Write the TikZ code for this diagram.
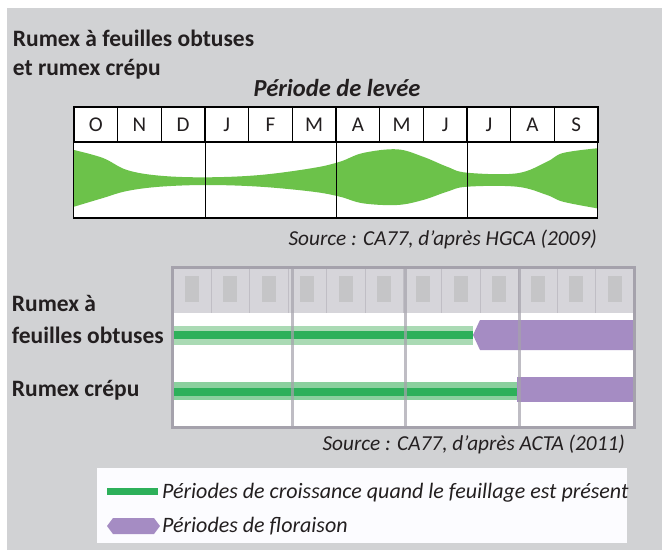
\documentclass[tikz,border=0pt]{standalone}
\usepackage{fontspec}
\setmainfont{Carlito}
\usepackage{tikz}
\usetikzlibrary{positioning}
\definecolor{bggray}{RGB}{209,210,212}
\definecolor{txt}{RGB}{35,31,32}
\definecolor{leveegreen}{RGB}{108,194,74}
\definecolor{bargreen}{RGB}{45,176,90}
\definecolor{halogreen}{RGB}{170,218,180}
\definecolor{flowerpurple}{RGB}{165,140,195}
\definecolor{gridgray}{RGB}{165,162,172}
\definecolor{headgray}{RGB}{214,213,218}
\tikzstyle{title} = [anchor=base west, inner sep=0, text=txt, font=\fontsize{23.5}{28}\selectfont\bfseries]
\tikzstyle{month} = [draw=black, line width=1.2pt, fill=white, minimum width=43.67pt, minimum height=35pt, inner sep=0, text=txt, font=\fontsize{21}{24}\selectfont]
\tikzstyle{source} = [anchor=base east, inner sep=0, text=txt, font=\fontsize{21.3}{25}\selectfont\itshape]
\tikzstyle{legendtext} = [anchor=base west, inner sep=0, text=txt, font=\fontsize{22}{26}\selectfont\itshape]
\tikzstyle{frame} = [line width=1.2pt, draw=black]
\tikzstyle{gridline} = [line width=3pt, draw=gridgray]

\begin{document}
\begin{tikzpicture}[x=1pt, y=-1pt, node distance = 43.67pt]
			\useasboundingbox (0,0) rectangle (662,550);
			\fill[white] (0,0) rectangle (662,550);
			\fill[bggray] (7,8) rectangle (662,550);

			%--Titles--%
			\node(title1)[title] at (12.7,46.7) {Rumex à feuilles obtuses};
			\node(title2)[title] at (12.7,75) {et rumex crépu};
			\node(levee)[title, anchor=base, font=\fontsize{24.5}{28}\selectfont\bfseries\itshape] at (337,96.7) {Période de levée};

			%--Months--%
			\node(m1)[month] at (95.83,124.5) {O};
			\node(m2)[month,right of=m1] {N};
			\node(m3)[month,right of=m2] {D};
			\node(m4)[month,right of=m3] {J};
			\node(m5)[month,right of=m4] {F};
			\node(m6)[month,right of=m5] {M};
			\node(m7)[month,right of=m6] {A};
			\node(m8)[month,right of=m7] {M};
			\node(m9)[month,right of=m8] {J};
			\node(m10)[month,right of=m9] {J};
			\node(m11)[month,right of=m10] {A};
			\node(m12)[month,right of=m11] {S};

			%--Emergence band--%
			\node(body)[fill=white, minimum width=524pt, minimum height=75pt, inner sep=0, below=0pt of m1.south west, anchor=north west] {};
			\fill[leveegreen] plot[smooth, tension=0.6] coordinates {(74,150) (103,158) (127,170) (160,175.7) (207,177.3) (260,175) (313,168) (340,161.7) (363,153) (397,149.3) (423,156.7) (447,166.7) (467,172.7) (517,173.3) (547,161.7) (563,153) (597,148.3)}
				-- plot[smooth, tension=0.6] coordinates {(597,208.3) (563,201.7) (547,195) (517,186.7) (467,186.7) (447,191.7) (423,200) (397,205) (363,203.3) (340,196.7) (313,191.7) (260,186.7) (207,185) (160,186.7) (127,191) (103,198) (74,206.7)} -- cycle;
			\draw[frame] (m3.south east) -- (m3.south east |- body.south);
			\draw[frame] (m6.south east) -- (m6.south east |- body.south);
			\draw[frame] (m9.south east) -- (m9.south east |- body.south);
			\draw[frame] (body.north west) rectangle (body.south east);

			\node(src1)[source] at (597,245) {Source : CA77, d’après HGCA (2009)};

			%--Flowering chart--%
			\node(grid)[fill=white, minimum width=461pt, minimum height=159pt, inner sep=0] at (403.5,347.5) {};
			\fill[headgray] (grid.north west) rectangle (634,313);
			\foreach \i in {0,...,11}
				\fill[gray!60, opacity=0.45] (173+\i*38.42+12,276) rectangle ++(14,26);
			\foreach \i in {1,...,11}
				\draw[gridgray!70, line width=1pt] (173+\i*38.42,268) -- (173+\i*38.42,313);

			%--Growth and flowering bars--%
			\fill[halogreen] (173,326) rectangle (473,345);
			\fill[bargreen] (173,331) rectangle (473,339);
			\fill[halogreen!75!bargreen] (173,382) rectangle (517,400);
			\fill[bargreen] (173,388) rectangle (517,396);
			\fill[flowerpurple] (473,335) -- (480,320) -- (634,320) -- (634,350) -- (480,350) -- cycle;
			\fill[flowerpurple] (517,377) rectangle (634,402);

			\draw[gridline, opacity=0.7] (292,268) -- (292,427);
			\draw[gridline, opacity=0.7] (405,268) -- (405,427);
			\draw[gridline, opacity=0.7] (519,268) -- (519,427);
			\draw[gridline] (grid.north west) rectangle (grid.south east);

			%--Row labels--%
			\node(rowA1)[title] at (11.7,311.7) {Rumex à};
			\node(rowA2)[title] at (11.7,343.3) {feuilles obtuses};
			\node(rowB)[title] at (11.7,396.7) {Rumex crépu};

			\node(src2)[source] at (625,450) {Source : CA77, d’après ACTA (2011)};

			%--Legend--%
			\node(legend)[fill={rgb,255:red,252;green,252;blue,255}, minimum width=530pt, minimum height=75pt, inner sep=0] at (362,505.5) {};
			\fill[bargreen] (107,488) rectangle (158,495);
			\node(leg1)[legendtext] at (162,498.6) {Périodes de croissance quand le feuillage est présent};
			\fill[flowerpurple] (107,526) -- (113,518) -- (154,518) -- (160,526) -- (154,534) -- (113,534) -- cycle;
			\node(leg2)[legendtext] at (162,532) {Périodes de floraison};
		\end{tikzpicture}
\end{document}
